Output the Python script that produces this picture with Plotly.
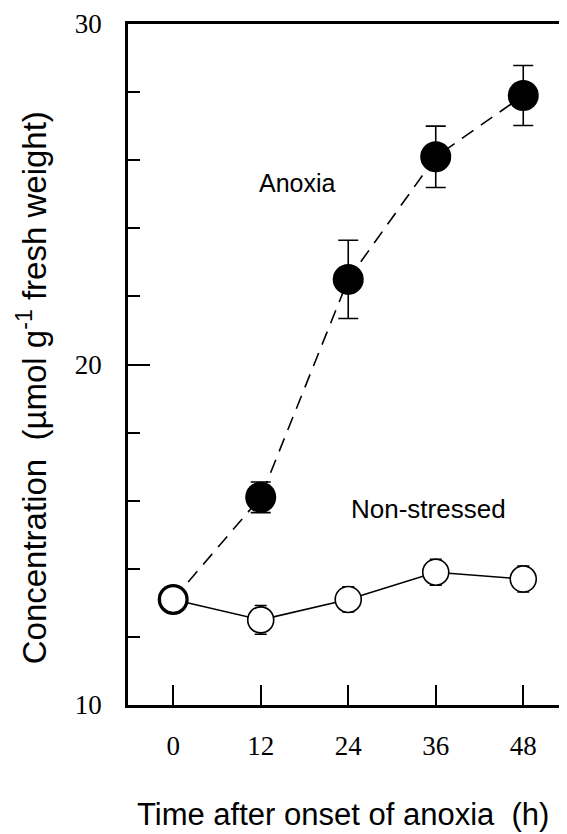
import plotly.graph_objects as go

hours = [0, 12, 24, 36, 48]
anoxia = [13.1, 16.1, 22.5, 26.1, 27.9]
anoxia_err = [0.3, 0.45, 1.15, 0.9, 0.88]
nonstressed = [13.1, 12.5, 13.1, 13.9, 13.7]
nonstressed_err = [0.4, 0.42, 0.37, 0.38, 0.38]
x_ticks = [0, 12, 24, 36, 48]
y_ticks = [10, 20, 30]

fig = go.Figure()
fig.add_trace(go.Scatter(
    x=hours, y=anoxia, mode="lines+markers", name="Anoxia",
    line=dict(color="black", width=1.6, dash="14px,9px"),
    marker=dict(size=31, color="black", line=dict(width=0)),
    error_y=dict(type="data", array=anoxia_err, color="black", thickness=1.6, width=10),
))
fig.add_trace(go.Scatter(
    x=hours, y=nonstressed, mode="lines+markers", name="Non-stressed",
    line=dict(color="black", width=1.6),
    marker=dict(size=26, color="white", line=dict(width=1.6, color="black")),
    error_y=dict(type="data", array=nonstressed_err, color="black", thickness=1.6, width=6),
))

fig.update_layout(
    width=559, height=826,
    margin=dict(l=120, r=0, t=16, b=129),
    paper_bgcolor="white", plot_bgcolor="white",
    showlegend=False,
    xaxis=dict(
        range=[-6.2, 54], tickvals=x_ticks, ticktext=[str(v) for v in x_ticks],
        ticks="inside", ticklen=20, tickwidth=1.6, tickcolor="black",
        showline=True, linewidth=2.5, linecolor="black", mirror=True,
        showgrid=False, zeroline=False,
        tickfont=dict(family="Liberation Serif", size=27, color="black"),
        ticklabelstandoff=15,
    ),
    yaxis=dict(
        range=[10, 30], tickvals=y_ticks, ticktext=[str(v) for v in y_ticks],
        ticks="inside", ticklen=22, tickwidth=1.6, tickcolor="black",
        minor=dict(dtick=2, tick0=10, ticks="inside", ticklen=12, tickwidth=1.6, tickcolor="black"),
        showline=True, linewidth=2.5, linecolor="black",
        showgrid=False, zeroline=False,
        tickfont=dict(family="Liberation Serif", size=27, color="black"),
        ticklabelstandoff=18,
    ),
    annotations=[
        dict(x=17.1, y=25.33, xref="x", yref="y", text="Anoxia", showarrow=False,
             xanchor="center", yanchor="middle",
             font=dict(family="Liberation Sans", size=25, color="black")),
        dict(x=35.0, y=15.76, xref="x", yref="y", text="Non-stressed", showarrow=False,
             xanchor="center", yanchor="middle",
             font=dict(family="Liberation Sans", size=26, color="black")),
        dict(x=0.49, y=-0.1615, xref="paper", yref="paper",
             text="Time after onset of anoxia  (h)", showarrow=False,
             xanchor="center", yanchor="middle",
             font=dict(family="Liberation Sans", size=31, color="black")),
        dict(x=-0.218, y=0.4655, xref="paper", yref="paper", textangle=-90,
             text="Concentration  (µmol g<sup>-1</sup> fresh weight)", showarrow=False,
             xanchor="center", yanchor="middle",
             font=dict(family="Liberation Sans", size=33, color="black")),
    ],
)

fig.write_html("out.html")
